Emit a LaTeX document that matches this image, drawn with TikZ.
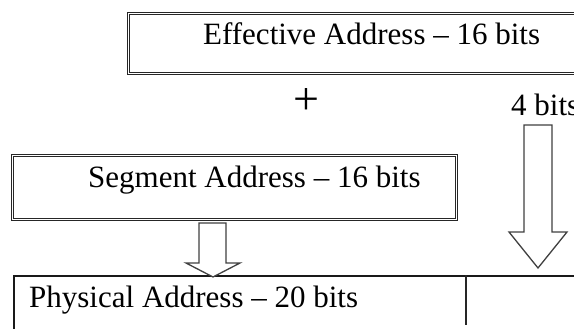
\documentclass[tikz,border=0pt]{standalone}
\usepackage{fontspec}
\setmainfont{Liberation Serif}
\begin{document}
\begin{tikzpicture}[x=1pt,y=-1pt,
  dbl/.style={draw=black!85, line width=0.9pt, double=white, double distance=1.1pt},
  single/.style={draw=black!90, line width=1.7pt},
  lbl/.style={anchor=base west, inner sep=0pt, font=\fontsize{31}{36}\selectfont},
  blockarrow/.style={draw=black!75, line width=1.3pt, fill=white, line join=miter}]
\useasboundingbox (0,0) rectangle (574,329);
% boxes
\node[dbl, anchor=north west, minimum width=480pt, minimum height=60pt, inner sep=0pt] (ea) at (128,13) {};
\node[dbl, anchor=north west, minimum width=444pt, minimum height=64pt, inner sep=0pt] (sa) at (12,155) {};
\node[single, anchor=north west, minimum width=600pt, minimum height=120pt, inner sep=0pt] (pa) at (13,275) {};
\coordinate (divtop) at (466,275);
\coordinate (divbot) at (466,325);
\draw[draw=black!85, line width=1.3pt] (divtop) -- (divbot);
% labels
\node[lbl] (eat) at (203,45) {Effective Address – 16 bits};
\node[lbl] (sat) at (88,188) {Segment Address – 16 bits};
\node[lbl] (pat) at (29,307) {Physical Address – 20 bits};
\node[lbl] (four) at (511,116) {4 bits};
\node[inner sep=0pt, font=\fontsize{46}{50}\selectfont] (plus) at (306.5,102) {+};
% block arrows
\draw[blockarrow] (199,223) -- (199,263) -- (186,263) -- (213,277) -- (240,263) -- (226,263) -- (226,223) -- cycle;
\draw[blockarrow] (524,125) -- (524,232) -- (509,232) -- (538,268) -- (567,232) -- (552,232) -- (552,125) -- cycle;
\end{tikzpicture}
\end{document}
